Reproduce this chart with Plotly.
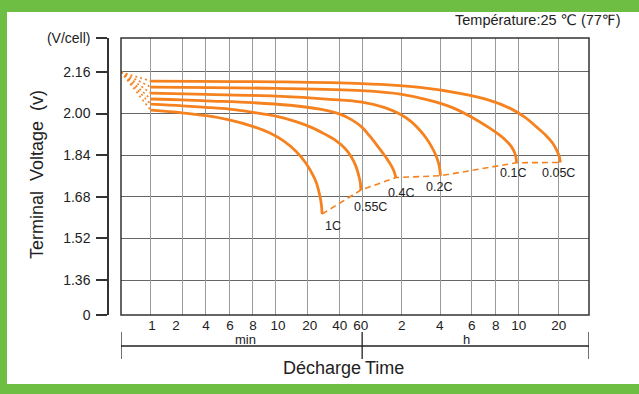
import numpy as np
import plotly.graph_objects as go

# ---- data: discharge curves (time in minutes, terminal voltage in V/cell) ----
rates = ["1C", "0.55C", "0.4C", "0.2C", "0.1C", "0.05C"]

t_1c = [1, 1.99, 4, 6.0, 8.0, 9.44, 11.9, 15.5, 19.3, 23.0, 24.5, 26.2, 27.1, 27.5]
v_1c = [2.013, 2.003, 1.992, 1.976, 1.951, 1.925, 1.894, 1.855, 1.809, 1.756,
        1.729, 1.683, 1.648, 1.614]

t_055c = [1, 1.99, 4, 6.0, 8.0, 10, 15.5, 22.0, 29.2, 37.2, 44.2, 49.2, 53.7,
          56.6, 58.1, 58.6]
v_055c = [2.036, 2.030, 2.024, 2.017, 2.005, 1.990, 1.969, 1.946, 1.921, 1.896,
          1.867, 1.836, 1.798, 1.760, 1.733, 1.706]

t_04c = [1, 1.99, 4, 8.0, 13.6, 26.2, 40.5, 50.0, 59.7, 68.7, 77.7, 86.4, 94.3,
         101.2, 105.7, 108.5]
v_04c = [2.056, 2.053, 2.049, 2.042, 2.032, 2.017, 1.998, 1.976, 1.948, 1.913,
         1.879, 1.848, 1.821, 1.796, 1.775, 1.754]

t_02c = [1, 4, 10, 32.6, 59.7, 89.4, 116.5, 143.8, 168.6, 187.5, 204.8, 219.8,
         229.7, 235.9, 238.7]
v_02c = [2.079, 2.074, 2.067, 2.055, 2.044, 2.023, 1.998, 1.967, 1.932, 1.902,
         1.871, 1.840, 1.813, 1.786, 1.761]

t_01c = [1, 10, 59.7, 120.6, 197.7, 277.4, 361.4, 448.1, 500.0, 534.6, 561,
         577.4, 584.8, 587]
v_01c = [2.102, 2.097, 2.088, 2.074, 2.051, 2.024, 1.986, 1.944, 1.917, 1.894,
         1.871, 1.848, 1.829, 1.811]

t_005c = [1, 10, 59.7, 165.7, 308.4, 448.1, 550.6, 667, 824, 966, 1093, 1173,
          1226, 1251]
v_005c = [2.125, 2.122, 2.115, 2.101, 2.078, 2.051, 2.021, 1.986, 1.948, 1.917,
          1.886, 1.859, 1.836, 1.812]

# initial voltage at the moment discharge begins
start_minutes = 0.5
start_volts = 2.16

# ---- axis: non-uniform time scale (minutes -> axis position) ----
scale_minutes = [0.5, 1, 2, 4, 6, 8, 10, 20, 40, 60, 120, 240, 360, 480, 600,
                 1200, 2072]
scale_pos = [0.0, 0.0634, 0.1309, 0.1815, 0.2313, 0.2812, 0.331, 0.3987, 0.4662,
             0.5153, 0.5994, 0.6833, 0.7489, 0.8001, 0.8499, 0.9338, 1.0]
x_tick_labels = ["1", "2", "4", "6", "8", "10", "20", "40", "60",
                 "2", "4", "6", "8", "10", "20"]
x_label_pos = [0.0662, 0.1174, 0.1815, 0.2327, 0.2819, 0.3353, 0.4036, 0.4677,
               0.5125, 0.6, 0.6812, 0.7495, 0.8008, 0.8499, 0.9353]

y_tick_vals = [1.36, 1.52, 1.68, 1.84, 2.00, 2.16]
y_bottom, y_top = 1.2256, 2.2906


def to_axis(minutes):
    return np.interp(np.log(np.asarray(minutes, dtype=float)),
                     np.log(scale_minutes), scale_pos)


ORANGE = "#F5821F"
GREEN = "#6EBE44"
TEXT = "#222222"
FONT = "Liberation Sans, Arial, DejaVu Sans, sans-serif"

curves = [(t_1c, v_1c), (t_055c, v_055c), (t_04c, v_04c),
          (t_02c, v_02c), (t_01c, v_01c), (t_005c, v_005c)]

fig = go.Figure()

# fan of dashed lines from the initial voltage to each curve start
for t, v in curves:
    fig.add_trace(go.Scatter(
        x=to_axis([start_minutes, t[0]]), y=[start_volts, v[0]],
        mode="lines", line=dict(color=ORANGE, width=1.6, dash="2px,3px"),
        hoverinfo="skip", showlegend=False))

# discharge curves
for t, v in curves:
    fig.add_trace(go.Scatter(
        x=to_axis(t), y=v, mode="lines",
        line=dict(color=ORANGE, width=2.8, shape="spline", smoothing=1.0),
        showlegend=False))

# dashed line joining the end-of-discharge points
end_t = [t[-1] for t, v in curves]
end_v = [v[-1] for t, v in curves]
fig.add_trace(go.Scatter(
    x=to_axis(end_t), y=end_v, mode="lines",
    line=dict(color=ORANGE, width=1.6, dash="6px,4px"),
    showlegend=False))

# empty trace that carries the vertical grid axis
fig.add_trace(go.Scatter(x=[], y=[], xaxis="x2", showlegend=False))

L, R, T, B = 108, 50, 38, 79
W, H = 639, 394
pw, ph = W - L - R, H - T - B
x0_dom = 13 / pw


def px(xp):
    return (xp - L) / pw


def py(yp):
    return (H - B - yp) / ph


x60 = float(to_axis([60])[0])

shapes = [
    # green border: top, left and bottom bands
    dict(type="rect", xref="paper", yref="paper", x0=px(-5), x1=px(650),
         y0=py(12), y1=py(-5), fillcolor=GREEN, line=dict(width=0), layer="below"),
    dict(type="rect", xref="paper", yref="paper", x0=px(-5), x1=px(7),
         y0=py(400), y1=py(-5), fillcolor=GREEN, line=dict(width=0), layer="below"),
    dict(type="rect", xref="paper", yref="paper", x0=px(-5), x1=px(650),
         y0=py(400), y1=py(384), fillcolor=GREEN, line=dict(width=0), layer="below"),
    # plot frame
    dict(type="rect", xref="x domain", yref="y domain", x0=0, x1=1, y0=0, y1=1,
         line=dict(color="#333333", width=1.5)),
    # min / h bracket under the time axis
    dict(type="line", xref="x", yref="paper", x0=0, x1=1, y0=py(346), y1=py(346),
         line=dict(color=TEXT, width=1.3)),
]
for xv in (0, x60, 1):
    shapes.append(dict(type="line", xref="x", yref="paper", x0=xv, x1=xv,
                       y0=py(332), y1=py(359), line=dict(color=TEXT, width=1.3)))


def note(x, y, text, size, xref="paper", xanchor="center", **kw):
    return dict(x=x, y=y, xref=xref, yref="paper", text=text, showarrow=False,
                xanchor=xanchor, yanchor="middle", font=dict(size=size, color=TEXT), **kw)


annotations = [
    note(px(37), py(175), "Terminal\u00a0\u00a0Voltage\u00a0\u00a0(v)", 18, textangle=-90),
    note(px(622), py(20), "Température:25 ℃ (77℉)", 14.5, xanchor="right"),
    note((245.7 - 121) / 468, py(339), "min", 13, xref="x"),
    note((466.7 - 121) / 468, py(339), "h", 13, xref="x"),
    note(x60, py(368), "Décharge", 18, xref="x", xanchor="right", xshift=1),
    note(x60, py(368), "Time", 18, xref="x", xanchor="left", xshift=1),
]

# rate labels next to the end points
label_shift = [(11, -12), (10, -17), (5, -15), (-1, -11), (-3, -10), (-2, -11)]
for name, te, ve, (dx, dy) in zip(rates, end_t, end_v, label_shift):
    annotations.append(dict(x=float(to_axis([te])[0]), y=ve, xref="x", yref="y",
                            text=name, showarrow=False, xanchor="center",
                            yanchor="middle", xshift=dx, yshift=dy,
                            font=dict(size=12.5, color=TEXT)))

fig.update_layout(
    width=W, height=H,
    margin=dict(l=L, r=R, t=T, b=B, pad=0),
    paper_bgcolor="white", plot_bgcolor="white",
    font=dict(family=FONT, color=TEXT),
    shapes=shapes,
    xaxis=dict(domain=[x0_dom, 1], range=[0, 1], tickvals=x_label_pos,
               ticktext=x_tick_labels, showgrid=False, zeroline=False,
               showline=False, ticks="", tickfont=dict(size=13.5, color=TEXT),
               anchor="y", fixedrange=True),
    xaxis2=dict(domain=[x0_dom, 1], range=[0, 1], overlaying="x", anchor="y",
                tickvals=scale_pos[1:-1], showticklabels=False, showgrid=True,
                gridcolor="#9a9a9a", gridwidth=1.2, zeroline=False, ticks=""),
    yaxis=dict(anchor="free", position=0, range=[y_bottom, y_top],
               tickvals=[y_bottom] + y_tick_vals + [y_top],
               ticktext=["0"] + [f"{v:.2f}" for v in y_tick_vals] + ["(V/cell)"],
               showgrid=True, gridcolor="#666666", gridwidth=1.2, zeroline=False,
               showline=True, linecolor="#333333", linewidth=1.5,
               ticks="outside", ticklen=11, tickwidth=1.5, tickcolor="#333333",
               ticklabelstandoff=3,
               tickfont=dict(size=14, color=TEXT), fixedrange=True),
    annotations=annotations,
    showlegend=False,
)

fig.write_html("out.html")
